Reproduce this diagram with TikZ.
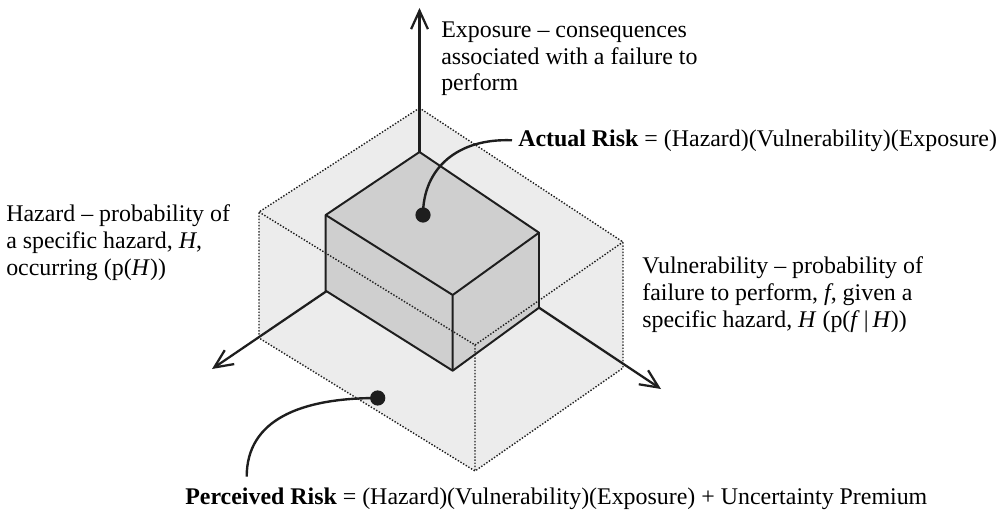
\documentclass[tikz,border=0pt]{standalone}
\usepackage{fontspec}
\setmainfont{Liberation Serif}
\usetikzlibrary{arrows.meta}
\tikzset{>={Straight Barb[length=4.6mm,width=4.2mm]}}
\definecolor{shellgray}{HTML}{ECECEC}
\definecolor{boxgray}{HTML}{CFCFCF}
\definecolor{ink}{HTML}{1E1E1E}

\begin{document}
\begin{tikzpicture}[
	x=0.025cm, y=-0.025cm,
	axis/.style = {
		draw=ink, line width=1.6pt, ->
	},
	edge/.style = {
		draw=ink, line width=1.4pt, line join=round
	},
	hidden/.style = {
		draw=ink, line width=1pt,
		dash pattern=on 1pt off 1.2pt
	},
	callout/.style = {
		draw=ink, line width=1.7pt
	},
	blob/.style = {
		circle, fill=ink,
		inner sep=0pt, minimum size=3.8mm
	},
	caption/.style = {
		inner sep=0pt,
		font=\fontsize{17}{19}\selectfont
	},
	note/.style = {
		caption, align=left, anchor=north west
	}
]
	\useasboundingbox (0,0) rectangle (1006,512);
	% Outer shell
	\coordinate (sB) at (419.5,108);
	\coordinate (sL) at (259,212);
	\coordinate (sF) at (475,345);
	\coordinate (sR) at (623,242);
	\coordinate (sLb) at (259,338);
	\coordinate (sFb) at (475,471);
	\coordinate (sRb) at (623,368);
	\fill[shellgray] (sB) -- (sR) -- (sRb) -- (sFb) -- (sLb) -- (sL) -- cycle;
	% Axes
	\coordinate (origin) at (419.5,228);
	\coordinate (exptip) at (419.5,8);
	\coordinate (haztip) at (212,369);
	\coordinate (vultip) at (661,389);
	\draw[axis] (origin) -- (exptip);
	\draw[axis] (origin) -- (haztip);
	\draw[axis] (origin) -- (vultip);
	% Inner box
	\coordinate (bB) at (419.5,152);
	\coordinate (bL) at (325.7,215);
	\coordinate (bF) at (452.7,295);
	\coordinate (bR) at (539,232.7);
	\coordinate (bLb) at (325.7,290.7);
	\coordinate (bFb) at (452.7,370.7);
	\coordinate (bRb) at (539,307.7);
	\draw[edge, fill=boxgray] (bB) -- (bR) -- (bRb) -- (bFb) -- (bLb) -- (bL) -- cycle;
	\draw[edge] (bL) -- (bF) -- (bR) (bF) -- (bFb);
	% Shell edges on top
	\draw[hidden] (sB) -- (sL) -- (sLb) -- (sFb) -- (sRb) -- (sR) -- cycle;
	\draw[hidden] (sL) -- (sF) -- (sR) (sF) -- (sFb);
	% Axis labels
	\node[note] (exposure) at (441,21.5) {Exposure -- consequences\\associated with a failure to\\perform};
	\node[note] (hazard) at (6,204.5) {Hazard -- probability of\\a specific hazard, \textit{H},\\occurring (p(\textit{H}))};
	\node[note] (vulner) at (642,256.5) {Vulnerability -- probability of\\failure to perform, \textit{f}, given a\\specific hazard, \textit{H} (p(\textit{f}\,|\,\textit{H}))};
	% Risk callouts
	\node[caption, anchor=base west] (actual) at (518,146) {\textbf{Actual Risk} = (Hazard)(Vulnerability)(Exposure)};
	\node[caption, anchor=base west] (perceived) at (185,504) {\textbf{Perceived Risk} = (Hazard)(Vulnerability)(Exposure) + Uncertainty Premium};
	\node[blob] (actdot) at (423,215) {};
	\draw[callout] (actdot.center) .. controls (423,168) and (458,138) .. ([xshift=-1.5mm]actual.west);
	\node[blob] (perdot) at (377.7,398) {};
	\coordinate (pertip) at (246.7,476.7);
	\draw[callout] (perdot.center) .. controls (300,398) and (246.7,420) .. (pertip);
\end{tikzpicture}
\end{document}
